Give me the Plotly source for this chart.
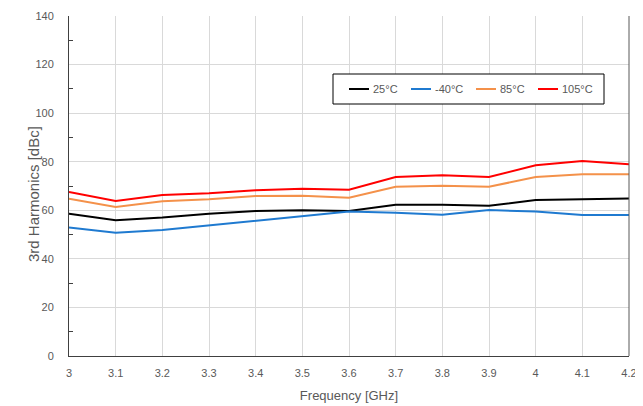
import plotly.graph_objects as go

freq = [3.0, 3.1, 3.2, 3.3, 3.4, 3.5, 3.6, 3.7, 3.8, 3.9, 4.0, 4.1, 4.2]
freq_labels = ["3", "3.1", "3.2", "3.3", "3.4", "3.5", "3.6", "3.7", "3.8", "3.9", "4", "4.1", "4.2"]
t25 = [58.6, 55.9, 57.0, 58.6, 59.7, 60.0, 59.7, 62.3, 62.3, 61.9, 64.2, 64.5, 64.9]
tm40 = [52.9, 50.8, 51.9, 53.8, 55.9, 57.9, 59.5, 59.0, 58.2, 60.1, 59.5, 58.1, 58.1]
t85 = [64.8, 61.4, 63.7, 64.5, 65.9, 66.0, 65.2, 69.7, 70.1, 69.7, 73.7, 74.8, 74.8]
t105 = [67.5, 63.8, 66.3, 67.0, 68.2, 68.9, 68.5, 73.7, 74.4, 73.7, 78.5, 80.3, 79.0]

series_names = ["25°C", "-40°C", "85°C", "105°C"]
series_vals = [t25, tm40, t85, t105]
series_colors = ["#000000", "#1F7AD0", "#F4914A", "#FF0000"]

# page body has an 8px margin; figure sized so the plot lands where the reference has it
OFF = 8
W, H = 643 - OFF, 406 - OFF
L, R, T, B = 69 - OFF, 14, 16 - OFF, 50
pw, ph = W - L - R, H - T - B


def px(x):  # screenshot pixel -> paper
    return (x - OFF - L) / pw


def py(y):
    return (T + ph - (y - OFF)) / ph


font = "Liberation Sans"
fig = go.Figure()
for name, vals, col in zip(series_names, series_vals, series_colors):
    fig.add_trace(go.Scatter(x=freq, y=vals, mode="lines", name=name,
                             line=dict(color=col, width=2), showlegend=False))

# manual legend (box, line samples, labels)
shapes = [dict(type="rect", xref="paper", yref="paper", x0=px(333), x1=px(604),
               y0=py(104), y1=py(74), line=dict(color="#000000", width=1),
               fillcolor="white", layer="above")]
annotations = []
sym_x = [349, 411, 476, 538]
for sx, name, col in zip(sym_x, series_names, series_colors):
    shapes.append(dict(type="line", xref="paper", yref="paper", x0=px(sx), x1=px(sx + 20),
                       y0=py(89), y1=py(89), line=dict(color=col, width=2), layer="above"))
    annotations.append(dict(xref="paper", yref="paper", x=px(sx + 22), y=py(89),
                            xanchor="left", yanchor="middle", text=name, showarrow=False,
                            font=dict(family=font, size=11, color="#595959")))
# right border
shapes.append(dict(type="line", xref="paper", yref="paper", x0=1, x1=1, y0=0, y1=1,
                   line=dict(color="#595959", width=1)))
# y axis title
annotations.append(dict(xref="paper", yref="paper", x=px(33), y=py(194),
                        xanchor="center", yanchor="middle", textangle=-90,
                        text="3rd Harmonics [dBc]", showarrow=False,
                        font=dict(family=font, size=15, color="#595959")))

fig.update_layout(
    width=W, height=H,
    margin=dict(l=L, r=R, t=T, b=B),
    paper_bgcolor="white", plot_bgcolor="white",
    font=dict(family=font, size=11, color="#595959"),
    showlegend=False,
    shapes=shapes, annotations=annotations,
)
fig.update_xaxes(range=[3, 4.2], tickvals=freq, ticktext=freq_labels,
                 showgrid=True, gridcolor="#D9D9D9", gridwidth=1,
                 showline=True, linecolor="#404040", linewidth=1,
                 ticks="", zeroline=False, automargin=False, ticklabelstandoff=7,
                 title=dict(text="Frequency [GHz]", font=dict(family=font, size=13, color="#595959"), standoff=12))
fig.update_yaxes(range=[0, 140], dtick=20,
                 showgrid=True, gridcolor="#D9D9D9", gridwidth=1,
                 showline=True, linecolor="#404040", linewidth=1,
                 ticks="", zeroline=False, automargin=False, ticklabelstandoff=12,
                 minor=dict(dtick=10, ticks="inside", ticklen=4, tickcolor="#404040", showgrid=False))

fig.write_html("out.html")
